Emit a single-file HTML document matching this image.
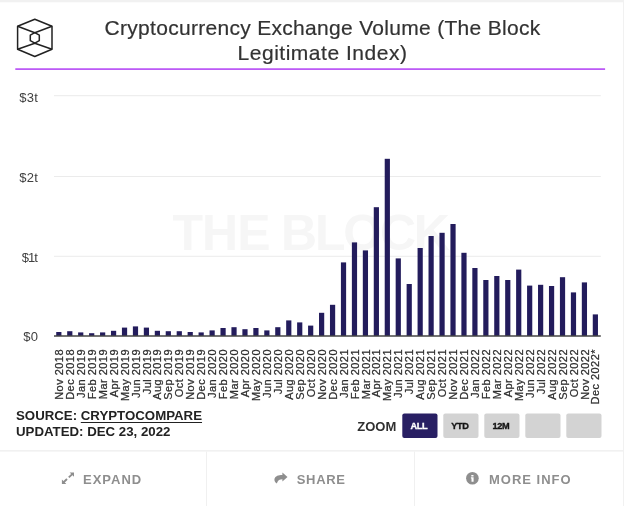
<!DOCTYPE html>
<html lang="en"><head><meta charset="utf-8"><title>Cryptocurrency Exchange Volume (The Block Legitimate Index)</title>
<style>
html,body{margin:0;padding:0;}
body{width:624px;height:506px;overflow:hidden;background:#fff;font-family:"Liberation Sans",sans-serif;position:relative;}
.card{position:absolute;left:0;top:0;width:624px;height:506px;background:#fff;}
.topb{position:absolute;left:0;top:0;width:624px;height:2px;background:#f1f1f1;border-bottom:1px solid #fbfbfb;}
.rightb{position:absolute;left:623px;top:0;width:1px;height:506px;background:#f1f1f1;}
.logo{position:absolute;left:0;top:0.3px;}
h1{position:absolute;left:40px;top:15px;width:565px;margin:0;text-align:center;font-weight:400;font-size:21px;line-height:25px;color:#333;letter-spacing:0.3px;-webkit-text-stroke:0.2px #333;}
h1 span{letter-spacing:0.52px;}
svg.chart{position:absolute;left:0;top:0;}
.src{position:absolute;left:16px;top:408px;font-weight:700;font-size:13.25px;line-height:16px;color:#222;white-space:nowrap;}
.src u{text-decoration:underline;text-underline-offset:2px;}
</style></head><body>
<div class="card">
<div class="topb"></div><div class="rightb"></div>
<svg class="logo" width="60" height="64" viewBox="0 0 60 64" fill="none" stroke="#222" stroke-width="1.5" stroke-linejoin="round">
<path d="M34.8 19.3 L52 26.3 L52 49.2 L34.8 56.5 L17.6 49.2 L17.6 26.3 Z"/>
<path d="M17.6 26.3 L34.8 32.7 L52 26.3 M17.6 49.2 L34.8 43.2 L52 49.2"/>
<path d="M34.8 32.7 L39.3 35.2 L39.3 40.7 L34.8 43.2 L30.3 40.7 L30.3 35.2 Z"/>
</svg>
<h1>Cryptocurrency Exchange Volume (The Block<br><span>Legitimate Index)</span></h1>
<svg class="chart" width="624" height="506" viewBox="0 0 624 506" font-family="Liberation Sans, sans-serif">
<text y="250.2" font-size="50" font-weight="700" fill="#f6f6f6"><tspan x="172.5" letter-spacing="-1">THE</tspan> <tspan x="281" letter-spacing="-2.2">BLOCK</tspan></text>
<rect x="15.3" y="68.3" width="589.8" height="1.6" fill="#b549f5"/>
<g stroke="#ebebeb" stroke-width="1">
<line x1="54" y1="95.7" x2="600.8" y2="95.7"/><line x1="54" y1="176.5" x2="600.8" y2="176.5"/><line x1="54" y1="256.3" x2="600.8" y2="256.3"/>
</g>
<g font-size="13" fill="#404040" letter-spacing="0.2" text-anchor="end">
<text x="38" y="101.8">$3t</text><text x="38" y="181.8">$2t</text><text x="36.9" y="261.5" letter-spacing="-1">$1t</text><text x="38.1" y="341.3">$0</text>
</g>
<g fill="#231c5c">
<rect x="56.23" y="332.00" width="5.2" height="4.00"/>
<rect x="67.18" y="331.20" width="5.2" height="4.80"/>
<rect x="78.12" y="332.40" width="5.2" height="3.60"/>
<rect x="89.08" y="333.20" width="5.2" height="2.80"/>
<rect x="100.03" y="332.40" width="5.2" height="3.60"/>
<rect x="110.97" y="330.80" width="5.2" height="5.20"/>
<rect x="121.93" y="327.60" width="5.2" height="8.40"/>
<rect x="132.88" y="326.40" width="5.2" height="9.60"/>
<rect x="143.82" y="327.60" width="5.2" height="8.40"/>
<rect x="154.78" y="330.80" width="5.2" height="5.20"/>
<rect x="165.72" y="331.20" width="5.2" height="4.80"/>
<rect x="176.68" y="331.20" width="5.2" height="4.80"/>
<rect x="187.62" y="332.00" width="5.2" height="4.00"/>
<rect x="198.57" y="332.40" width="5.2" height="3.60"/>
<rect x="209.52" y="330.40" width="5.2" height="5.60"/>
<rect x="220.47" y="328.00" width="5.2" height="8.00"/>
<rect x="231.42" y="327.20" width="5.2" height="8.80"/>
<rect x="242.38" y="329.20" width="5.2" height="6.80"/>
<rect x="253.32" y="328.00" width="5.2" height="8.00"/>
<rect x="264.27" y="330.40" width="5.2" height="5.60"/>
<rect x="275.22" y="327.20" width="5.2" height="8.80"/>
<rect x="286.17" y="320.40" width="5.2" height="15.60"/>
<rect x="297.12" y="322.40" width="5.2" height="13.60"/>
<rect x="308.07" y="325.60" width="5.2" height="10.40"/>
<rect x="319.02" y="312.80" width="5.2" height="23.20"/>
<rect x="329.97" y="304.80" width="5.2" height="31.20"/>
<rect x="340.92" y="262.40" width="5.2" height="73.60"/>
<rect x="351.88" y="242.40" width="5.2" height="93.60"/>
<rect x="362.82" y="250.40" width="5.2" height="85.60"/>
<rect x="373.77" y="207.20" width="5.2" height="128.80"/>
<rect x="384.72" y="158.80" width="5.2" height="177.20"/>
<rect x="395.67" y="258.40" width="5.2" height="77.60"/>
<rect x="406.62" y="284.00" width="5.2" height="52.00"/>
<rect x="417.57" y="248.00" width="5.2" height="88.00"/>
<rect x="428.52" y="236.00" width="5.2" height="100.00"/>
<rect x="439.47" y="232.80" width="5.2" height="103.20"/>
<rect x="450.42" y="224.00" width="5.2" height="112.00"/>
<rect x="461.38" y="252.80" width="5.2" height="83.20"/>
<rect x="472.32" y="268.00" width="5.2" height="68.00"/>
<rect x="483.27" y="280.00" width="5.2" height="56.00"/>
<rect x="494.22" y="276.00" width="5.2" height="60.00"/>
<rect x="505.17" y="280.00" width="5.2" height="56.00"/>
<rect x="516.12" y="269.60" width="5.2" height="66.40"/>
<rect x="527.07" y="285.60" width="5.2" height="50.40"/>
<rect x="538.02" y="284.80" width="5.2" height="51.20"/>
<rect x="548.97" y="286.00" width="5.2" height="50.00"/>
<rect x="559.92" y="277.20" width="5.2" height="58.80"/>
<rect x="570.88" y="292.40" width="5.2" height="43.60"/>
<rect x="581.82" y="282.40" width="5.2" height="53.60"/>
<rect x="592.77" y="314.40" width="5.2" height="21.60"/>
</g>
<line x1="54" y1="336" x2="600.8" y2="336" stroke="#444" stroke-width="1.5"/>
<g font-size="11" fill="#2e2e2e" stroke="#2e2e2e" stroke-width="0.25" text-anchor="end" letter-spacing="0.46">
<text transform="translate(62.93,349.0) rotate(-90)">Nov 2018</text>
<text transform="translate(73.88,349.0) rotate(-90)">Dec 2018</text>
<text transform="translate(84.82,349.0) rotate(-90)">Jan 2019</text>
<text transform="translate(95.77,349.0) rotate(-90)">Feb 2019</text>
<text transform="translate(106.72,349.0) rotate(-90)">Mar 2019</text>
<text transform="translate(117.67,349.0) rotate(-90)">Apr 2019</text>
<text transform="translate(128.62,349.0) rotate(-90)">May 2019</text>
<text transform="translate(139.57,349.0) rotate(-90)">Jun 2019</text>
<text transform="translate(150.52,349.0) rotate(-90)">Jul 2019</text>
<text transform="translate(161.47,349.0) rotate(-90)">Aug 2019</text>
<text transform="translate(172.42,349.0) rotate(-90)">Sep 2019</text>
<text transform="translate(183.38,349.0) rotate(-90)">Oct 2019</text>
<text transform="translate(194.32,349.0) rotate(-90)">Nov 2019</text>
<text transform="translate(205.27,349.0) rotate(-90)">Dec 2019</text>
<text transform="translate(216.22,349.0) rotate(-90)">Jan 2020</text>
<text transform="translate(227.17,349.0) rotate(-90)">Feb 2020</text>
<text transform="translate(238.12,349.0) rotate(-90)">Mar 2020</text>
<text transform="translate(249.07,349.0) rotate(-90)">Apr 2020</text>
<text transform="translate(260.02,349.0) rotate(-90)">May 2020</text>
<text transform="translate(270.98,349.0) rotate(-90)">Jun 2020</text>
<text transform="translate(281.93,349.0) rotate(-90)">Jul 2020</text>
<text transform="translate(292.88,349.0) rotate(-90)">Aug 2020</text>
<text transform="translate(303.82,349.0) rotate(-90)">Sep 2020</text>
<text transform="translate(314.78,349.0) rotate(-90)">Oct 2020</text>
<text transform="translate(325.73,349.0) rotate(-90)">Nov 2020</text>
<text transform="translate(336.68,349.0) rotate(-90)">Dec 2020</text>
<text transform="translate(347.62,349.0) rotate(-90)">Jan 2021</text>
<text transform="translate(358.58,349.0) rotate(-90)">Feb 2021</text>
<text transform="translate(369.53,349.0) rotate(-90)">Mar 2021</text>
<text transform="translate(380.48,349.0) rotate(-90)">Apr 2021</text>
<text transform="translate(391.43,349.0) rotate(-90)">May 2021</text>
<text transform="translate(402.38,349.0) rotate(-90)">Jun 2021</text>
<text transform="translate(413.33,349.0) rotate(-90)">Jul 2021</text>
<text transform="translate(424.28,349.0) rotate(-90)">Aug 2021</text>
<text transform="translate(435.23,349.0) rotate(-90)">Sep 2021</text>
<text transform="translate(446.18,349.0) rotate(-90)">Oct 2021</text>
<text transform="translate(457.12,349.0) rotate(-90)">Nov 2021</text>
<text transform="translate(468.08,349.0) rotate(-90)">Dec 2021</text>
<text transform="translate(479.03,349.0) rotate(-90)">Jan 2022</text>
<text transform="translate(489.98,349.0) rotate(-90)">Feb 2022</text>
<text transform="translate(500.93,349.0) rotate(-90)">Mar 2022</text>
<text transform="translate(511.88,349.0) rotate(-90)">Apr 2022</text>
<text transform="translate(522.82,349.0) rotate(-90)">May 2022</text>
<text transform="translate(533.77,349.0) rotate(-90)">Jun 2022</text>
<text transform="translate(544.73,349.0) rotate(-90)">Jul 2022</text>
<text transform="translate(555.67,349.0) rotate(-90)">Aug 2022</text>
<text transform="translate(566.62,349.0) rotate(-90)">Sep 2022</text>
<text transform="translate(577.58,349.0) rotate(-90)">Oct 2022</text>
<text transform="translate(588.52,349.0) rotate(-90)">Nov 2022</text>
<text transform="translate(599.48,349.0) rotate(-90)">Dec 2022*</text>
</g>
<text x="357.3" y="430.6" font-size="13" font-weight="700" fill="#303030">ZOOM</text>
<rect x="402.3" y="413.6" width="35.2" height="24.4" rx="2" fill="#281f63"/>
<rect x="443.3" y="413.6" width="35.2" height="24.4" rx="2" fill="#d3d3d3"/>
<rect x="484.3" y="413.6" width="35.2" height="24.4" rx="2" fill="#d3d3d3"/>
<rect x="525.3" y="413.6" width="35.2" height="24.4" rx="2" fill="#d3d3d3"/>
<rect x="566.3" y="413.6" width="35.2" height="24.4" rx="2" fill="#d3d3d3"/>
<g font-size="9.2" font-weight="700" text-anchor="middle" letter-spacing="-0.3" stroke-width="0.35">
<text x="418.9" y="429.4" fill="#fff" stroke="#fff">ALL</text><text x="459.9" y="429.4" fill="#151515" stroke="#151515">YTD</text><text x="500.9" y="429.4" fill="#151515" stroke="#151515">12M</text>
</g>
<g fill="#f0f0f0"><rect x="0" y="450.1" width="623" height="1.5"/><rect x="206" y="451.5" width="1" height="55"/><rect x="414" y="451.5" width="1" height="55"/></g>
<g font-size="13" font-weight="700" fill="#8e8e8e" letter-spacing="1">
<text x="83" y="483.8">EXPAND</text><text x="296.7" y="483.8" letter-spacing="0.7">SHARE</text><text x="489" y="483.8">MORE INFO</text>
</g>
<g fill="#8e8e8e">
<g transform="translate(61.9,472.4)"><path d="M7.7 0 H12.1 V4.4 Z M0 7.2 V11.6 H4.4 Z"/><path d="M10.4 1.7 L6.9 5.0 M1.7 9.9 L5.1 6.6" stroke="#8e8e8e" stroke-width="1.9" fill="none"/></g>
<g transform="translate(274.2,472.4)"><path d="M8.2 0 L13.3 4.6 L8.2 9.2 V6.9 C5.5 6.9 3.6 7.8 2.6 11.1 C0.6 10.2 -0.1 8 0.3 6.4 C1.1 3.5 4.2 2.5 8.2 2.5 Z"/></g>
<circle cx="472.4" cy="478.3" r="6.3"/>
<path d="M471.3 475.1 h2.2 v1.5 h-2.2 z M470.9 477.3 h2.7 v4.4 h-2.1 v-3.3 h-0.6 z" fill="#fff"/>
</g>
</svg>
<div class="src">SOURCE: <u>CRYPTOCOMPARE</u><br>UPDATED: DEC 23, 2022</div>
</div>
</body></html>
